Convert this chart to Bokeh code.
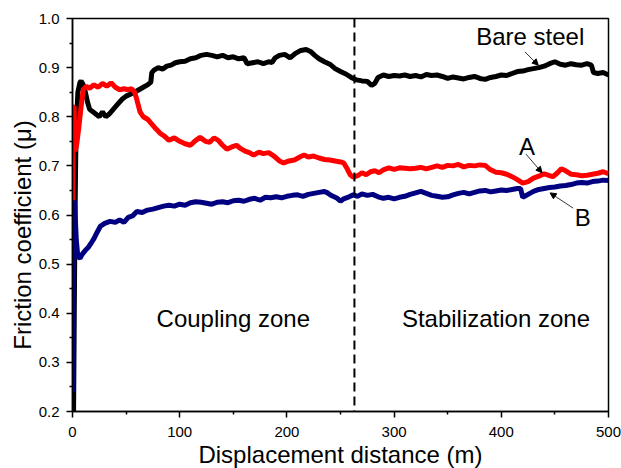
from bokeh.plotting import figure
from bokeh.models import Span, Label, Arrow, NormalHead, FixedTicker, PrintfTickFormatter
from bokeh.embed import file_html
from bokeh.resources import INLINE

# ---- data ----
bare_x = [1.0, 1.5, 2.0, 2.5, 3, 4, 5, 7, 8, 10, 12, 14, 16, 19, 22, 25, 28, 31, 34, 38, 42, 46, 50,
          54, 58, 62, 66, 70, 73, 74, 76, 80, 84, 88, 92, 96, 100, 105, 110, 115, 120, 125, 130, 135,
          140, 145, 150, 155, 160, 163, 168, 173, 178, 183, 186, 189, 193, 198, 203, 208, 213, 218,
          222, 226, 230, 235, 240, 245, 250, 255, 260, 265, 270, 275, 279, 282, 285, 290, 295, 300,
          305, 310, 315, 320, 325, 330, 335, 340, 345, 350, 355, 360, 365, 370, 375, 380, 385, 390,
          395, 400, 405, 410, 415, 420, 425, 430, 435, 440, 445, 450, 455, 460, 465, 470, 475, 480,
          484, 486, 490, 495, 500]
bare_y = [0.20, 0.35, 0.50, 0.62, 0.72, 0.80, 0.85, 0.87, 0.873, 0.865, 0.85, 0.83, 0.815, 0.81,
          0.805, 0.80, 0.81, 0.80, 0.805, 0.815, 0.825, 0.835, 0.842, 0.846, 0.85, 0.855, 0.86,
          0.865, 0.87, 0.89, 0.895, 0.90, 0.897, 0.903, 0.905, 0.91, 0.912, 0.913, 0.918, 0.92,
          0.925, 0.927, 0.925, 0.922, 0.925, 0.92, 0.922, 0.918, 0.92, 0.908, 0.91, 0.912, 0.908,
          0.912, 0.91, 0.92, 0.925, 0.927, 0.92, 0.929, 0.935, 0.937, 0.933, 0.925, 0.918, 0.912,
          0.907, 0.898, 0.892, 0.887, 0.88, 0.875, 0.873, 0.872, 0.864, 0.868, 0.88, 0.885, 0.882,
          0.884, 0.883, 0.885, 0.882, 0.884, 0.881, 0.886, 0.884, 0.885, 0.882, 0.878, 0.881, 0.879,
          0.877, 0.88, 0.882, 0.878, 0.876, 0.88, 0.882, 0.885, 0.884, 0.888, 0.892, 0.893, 0.896,
          0.898, 0.90, 0.903, 0.908, 0.912, 0.907, 0.905, 0.908, 0.906, 0.905, 0.908, 0.905, 0.89,
          0.888, 0.89, 0.885]

a_x = [0, 0.7, 1.5, 2.5, 4, 6, 8, 10, 13, 16, 20, 24, 28, 32, 36, 40, 44, 48, 52, 55, 58, 60, 63,
       66, 70, 74, 78, 82, 86, 90, 95, 100, 105, 110, 115, 119, 124, 128, 132, 136, 140, 144, 148,
       153, 157, 161, 165, 169, 174, 178, 183, 188, 193, 197, 202, 207, 212, 216, 220, 225, 230,
       235, 240, 245, 250, 253, 256, 259, 262, 266, 270, 274, 278, 282, 286, 290, 295, 300, 305,
       310, 315, 320, 325, 330, 335, 340, 345, 350, 355, 360, 365, 370, 375, 380, 385, 390, 395,
       400, 405, 410, 415, 420, 425, 430, 435, 440, 445, 448, 452, 456, 460, 465, 470, 475, 480,
       485, 490, 495, 500]
a_y = [0.52, 0.82, 0.82, 0.73, 0.745, 0.78, 0.82, 0.855, 0.862, 0.858, 0.865, 0.86, 0.868, 0.862,
       0.869, 0.86, 0.855, 0.857, 0.855, 0.857, 0.85, 0.835, 0.81, 0.80, 0.795, 0.785, 0.775,
       0.766, 0.76, 0.752, 0.757, 0.75, 0.745, 0.742, 0.752, 0.758, 0.75, 0.748, 0.757, 0.752,
       0.742, 0.734, 0.738, 0.742, 0.735, 0.73, 0.727, 0.722, 0.728, 0.725, 0.727, 0.72, 0.71,
       0.706, 0.71, 0.712, 0.718, 0.722, 0.718, 0.72, 0.716, 0.713, 0.712, 0.71, 0.708, 0.706,
       0.695, 0.682, 0.677, 0.68, 0.686, 0.682, 0.688, 0.69, 0.686, 0.692, 0.696, 0.693, 0.696,
       0.695, 0.694, 0.695, 0.697, 0.694, 0.697, 0.70, 0.697, 0.701, 0.70, 0.703, 0.698, 0.701,
       0.70, 0.702, 0.701, 0.692, 0.687, 0.686, 0.683, 0.678, 0.672, 0.665, 0.668, 0.675, 0.679,
       0.684, 0.68, 0.678, 0.685, 0.694, 0.69, 0.683, 0.682, 0.68, 0.681, 0.683, 0.685, 0.688,
       0.684]

b_x = [0, 0.3, 0.8, 1.2, 1.8, 2.5, 3.5, 5, 7, 9, 12, 15, 18, 20, 23, 26, 30, 35, 40, 44, 48, 52,
       56, 60, 65, 70, 75, 80, 85, 90, 95, 100, 105, 110, 115, 120, 125, 130, 135, 140, 145, 150,
       155, 160, 165, 170, 175, 180, 185, 190, 195, 200, 205, 210, 215, 220, 225, 230, 235, 238,
       241, 244, 247, 250, 253, 258, 262, 266, 270, 275, 280, 285, 290, 295, 300, 305, 310, 315,
       320, 325, 330, 335, 340, 345, 350, 355, 360, 365, 370, 375, 380, 385, 390, 395, 400, 405,
       410, 415, 418, 420, 425, 430, 435, 440, 445, 450, 455, 460, 465, 470, 475, 480, 485, 490,
       495, 500]
b_y = [0.24, 0.26, 0.45, 0.60, 0.63, 0.60, 0.55, 0.515, 0.512, 0.52, 0.528, 0.535, 0.545, 0.552,
       0.565, 0.577, 0.583, 0.587, 0.585, 0.59, 0.585, 0.595, 0.598, 0.607, 0.605, 0.61, 0.612,
       0.615, 0.618, 0.62, 0.618, 0.622, 0.62, 0.625, 0.627, 0.626, 0.624, 0.622, 0.626, 0.627,
       0.625, 0.629, 0.63, 0.628, 0.632, 0.634, 0.63, 0.636, 0.635, 0.637, 0.635, 0.638, 0.64,
       0.641, 0.638, 0.642, 0.644, 0.646, 0.648, 0.645, 0.64, 0.637, 0.634, 0.628, 0.633, 0.637,
       0.641, 0.638, 0.643, 0.64, 0.642, 0.637, 0.634, 0.636, 0.633, 0.636, 0.638, 0.642, 0.645,
       0.648, 0.644, 0.64, 0.638, 0.636, 0.637, 0.641, 0.644, 0.646, 0.643, 0.646, 0.649, 0.65,
       0.647, 0.649, 0.651, 0.65, 0.652, 0.654, 0.654, 0.636, 0.642, 0.648, 0.652, 0.654, 0.656,
       0.657, 0.659, 0.66, 0.662, 0.665, 0.666, 0.665, 0.668, 0.669, 0.671, 0.67]

x_ticks = [0, 100, 200, 300, 400, 500]
y_ticks = [0.2, 0.3, 0.4, 0.5, 0.6, 0.7, 0.8, 0.9, 1.0]
boundary_x = 263
FONT = "Liberation Sans"

p = figure(frame_width=536, frame_height=393, x_range=(0, 500), y_range=(0.2, 1.0),
           output_backend="svg", toolbar_location=None,
           min_border_left=72, min_border_right=13, min_border_top=18, min_border_bottom=40)
p.grid.visible = False
p.outline_line_color = "black"
p.outline_line_width = 1.5
p.background_fill_color = "white"
p.border_fill_color = "white"

for ax, ticks, minor in ((p.xaxis, x_ticks, [50, 150, 250, 350, 450]),
                         (p.yaxis, y_ticks, [0.25, 0.35, 0.45, 0.55, 0.65, 0.75, 0.85, 0.95])):
    ax.ticker = FixedTicker(ticks=ticks, minor_ticks=minor)
    ax.axis_line_color = "black"
    ax.axis_line_width = 1.5
    ax.major_tick_line_width = 1.5
    ax.minor_tick_line_width = 1.5
    ax.major_tick_out = 6
    ax.major_tick_in = 0
    ax.minor_tick_out = 3
    ax.minor_tick_in = 0
    ax.major_label_text_font = FONT
    ax.major_label_text_font_size = "15px"
    ax.major_label_text_color = "black"
    ax.axis_label_text_font = FONT
    ax.axis_label_text_font_size = "24px"
    ax.axis_label_text_font_style = "normal"
    ax.axis_label_text_color = "black"

p.xaxis.axis_label = "Displacement distance (m)"
p.xaxis.major_label_standoff = 9
p.xaxis.axis_label_standoff = 1
# trailing no-break spaces push the visible title a little below the frame centre, as in the reference
p.yaxis.axis_label = "Friction coefficient (\u03bc)" + "\u00a0" * 6
p.yaxis.major_label_standoff = 7
p.yaxis.axis_label_standoff = 0
p.yaxis.formatter = PrintfTickFormatter(format="%.1f")

p.add_layout(Span(location=boundary_x, dimension="height", line_color="black",
                  line_width=2, line_dash="9 5"))

p.line(bare_x, bare_y, line_color="black", line_width=5)
p.line(a_x, a_y, line_color="#ff0000", line_width=5)
p.line(b_x, b_y, line_color="#000080", line_width=5)

for txt, xx in (("Coupling zone", 150), ("Stabilization zone", 395)):
    p.add_layout(Label(x=xx, y=0.39, text=txt, text_align="center", text_baseline="middle",
                       text_font=FONT, text_font_size="24px", text_color="black"))

for txt, xx, yy in (("Bare steel", 427, 0.964), ("A", 424, 0.739), ("B", 476, 0.594)):
    p.add_layout(Label(x=xx, y=yy, text=txt, text_align="center", text_baseline="middle",
                       text_font=FONT, text_font_size="24px", text_color="black"))

for (x0, y0, x1, y1) in ((422, 0.932, 434.5, 0.905), (423, 0.724, 438, 0.686), (467, 0.614, 445.5, 0.645)):
    p.add_layout(Arrow(end=NormalHead(size=6, fill_color="black", line_color="black", line_width=1),
                       x_start=x0, y_start=y0, x_end=x1, y_end=y1,
                       line_color="black", line_width=0.8))

open("out.html", "w").write(file_html(p, INLINE))
